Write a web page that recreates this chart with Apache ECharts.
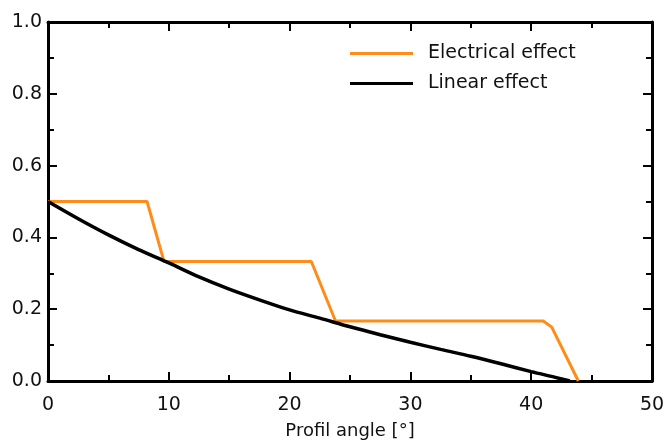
<!DOCTYPE html>
<html>
<head>
<meta charset="utf-8">
<script src="https://cdn.jsdelivr.net/npm/echarts@6/dist/echarts.min.js"></script>
<style>
  html, body { margin: 0; padding: 0; background: #fff; }
  #main { width: 668px; height: 448px; }
</style>
</head>
<body>
<div id="main"></div>
<script>
// electrical effect: stepped curve (profil angle, value)
var electricalX = [0, 8.2, 9.6, 21.8, 23.8, 41.0, 41.7, 43.9];
var electricalY = [0.5, 0.5, 0.333, 0.333, 0.167, 0.167, 0.15, 0];
// linear effect
var linearX = [0, 2.5, 5, 7.5, 10, 12.5, 15, 17.5, 20, 22.5, 25, 27.5, 30, 32.5, 35, 37.5, 40, 42, 43.2];
var linearY = [0.5, 0.452, 0.407, 0.366, 0.329, 0.29, 0.256, 0.226, 0.198, 0.175, 0.151, 0.129, 0.108, 0.088, 0.069, 0.048, 0.026, 0.01, 0];

var seriesNames = ['Electrical effect', 'Linear effect'];

function pairs(xs, ys) {
  return xs.map(function (x, i) { return [x, ys[i]]; });
}

var myChart = echarts.init(document.getElementById('main'));

var fontName = 'DejaVu Sans, sans-serif';
var axisLine = { show: true, onZero: false, lineStyle: { color: '#000', width: 3 } };
var tickStyle = { show: true, inside: true, length: 9, lineStyle: { color: '#000', width: 2 } };
var minorStyle = { show: true, splitNumber: 2, length: 6, lineStyle: { color: '#000', width: 2 } };
var labelFont = { color: '#111', fontSize: 19, fontFamily: fontName };

var option = {
  animation: false,
  grid: { left: 48, right: 16, top: 22, bottom: 67 },
  legend: {
    data: seriesNames,
    orient: 'vertical',
    left: 345,
    top: 39,
    itemWidth: 63,
    itemHeight: 3,
    itemGap: 11,
    icon: 'rect',
    textStyle: { color: '#111', fontSize: 19, fontFamily: fontName, padding: [0, 0, 0, 10] }
  },
  xAxis: [
    {
      type: 'value', min: 0, max: 50, interval: 10, position: 'bottom',
      name: 'Profil angle [°]', nameLocation: 'middle', nameGap: 41,
      nameTextStyle: { color: '#111', fontSize: 18, fontFamily: fontName },
      axisLine: axisLine, axisTick: tickStyle, minorTick: minorStyle,
      axisLabel: Object.assign({ margin: 15 }, labelFont),
      splitLine: { show: false }
    },
    {
      type: 'value', min: 0, max: 50, interval: 10, position: 'top',
      axisLine: axisLine, axisTick: tickStyle, minorTick: minorStyle,
      axisLabel: { show: false }, splitLine: { show: false }
    }
  ],
  yAxis: [
    {
      type: 'value', min: 0, max: 1, interval: 0.2, position: 'left',
      axisLine: axisLine, axisTick: tickStyle, minorTick: minorStyle,
      axisLabel: Object.assign({ margin: 6, formatter: function (v) { return v.toFixed(1); } }, labelFont),
      splitLine: { show: false }
    },
    {
      type: 'value', min: 0, max: 1, interval: 0.2, position: 'right',
      axisLine: axisLine, axisTick: tickStyle, minorTick: minorStyle,
      axisLabel: { show: false }, splitLine: { show: false }
    }
  ],
  series: [
    {
      name: seriesNames[0], type: 'line', data: pairs(electricalX, electricalY),
      showSymbol: false, symbol: 'none', z: 3,
      lineStyle: { color: '#ff8c1a', width: 3 }, itemStyle: { color: '#ff8c1a' }
    },
    {
      name: seriesNames[1], type: 'line', data: pairs(linearX, linearY),
      showSymbol: false, symbol: 'none', smooth: 0.3, z: 4,
      lineStyle: { color: '#000', width: 3.5 }, itemStyle: { color: '#000' }
    }
  ]
};

myChart.setOption(option);
</script>
</body>
</html>
